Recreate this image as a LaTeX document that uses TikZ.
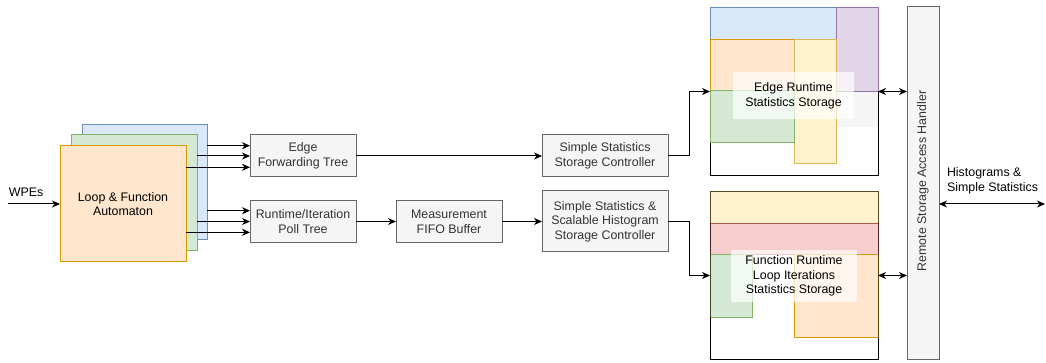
\documentclass[tikz,border=0pt]{standalone}
\usepackage{fontspec}
\setmainfont{Liberation Sans}
\usetikzlibrary{arrows.meta,calc}
\definecolor{blueF}{HTML}{DAE8FC}\definecolor{blueS}{HTML}{6C8EBF}
\definecolor{greenF}{HTML}{D5E8D4}\definecolor{greenS}{HTML}{82B366}
\definecolor{orangeF}{HTML}{FFE6CC}\definecolor{orangeS}{HTML}{D79B00}
\definecolor{yellowF}{HTML}{FFF2CC}\definecolor{yellowS}{HTML}{D6B656}
\definecolor{redF}{HTML}{F8CECC}\definecolor{redS}{HTML}{B85450}
\definecolor{purpleF}{HTML}{E1D5E7}\definecolor{purpleS}{HTML}{9673A6}
\definecolor{grayF}{HTML}{F5F5F5}\definecolor{grayS}{HTML}{666666}
\definecolor{txtgray}{HTML}{333333}
\begin{document}
\begin{tikzpicture}[x=1pt,y=-1pt,
  font=\fontsize{12.4}{14.6}\selectfont,
  every node/.style={inner sep=0pt, outer sep=0pt},
  box/.style={draw=grayS, fill=grayF, text=txtgray, align=center, line width=1pt},
  stack/.style={line width=1pt, align=center},
  cell/.style={line width=1pt},
  lbl/.style={fill=white, fill opacity=0.7, text opacity=1, align=center},
  arr/.style={-{Stealth[length=8pt,width=7pt,inset=2.5pt]}, line width=1pt},
  darr/.style={{Stealth[length=8pt,width=7pt,inset=2.5pt]}-{Stealth[length=8pt,width=7pt,inset=2.5pt]}, line width=1pt}]
\useasboundingbox (0,0) rectangle (1046,363);

% automaton stack
\node[stack, fill=blueF, draw=blueS, minimum width=125pt, minimum height=115pt] (blue) at (144.5,182.5) {};
\node[stack, fill=greenF, draw=greenS, minimum width=126pt, minimum height=116pt] (green) at (134,193) {};
\node[stack, fill=orangeF, draw=orangeS, minimum width=126pt, minimum height=116pt] (auto) at (123,204) {Loop \& Function\\Automaton};

% input
\coordinate (win) at (8,204);
\node[anchor=west] (wpel) at (9,192.5) {WPEs};
\draw[arr] (win) -- (auto.west);

% grey boxes
\node[box, minimum width=106pt, minimum height=42pt] (eft) at (303,156) {Edge\\Forwarding Tree};
\node[box, minimum width=106pt, minimum height=42pt] (rpt) at (303,221.5) {Runtime/Iteration\\Poll Tree};
\node[box, minimum width=106pt, minimum height=42pt] (fifo) at (449,221.5) {Measurement\\FIFO Buffer};
\node[box, minimum width=126pt, minimum height=42pt] (ssc) at (605,156) {Simple Statistics\\Storage Controller};
\node[box, minimum width=126pt, minimum height=61pt] (shc) at (605,221.5) {Simple Statistics \&\\Scalable Histogram\\Storage Controller};

% automaton -> trees
\draw[arr] ([yshift=10.3pt]eft.west -| blue.east) -- ([yshift=10.3pt]eft.west);
\draw[arr] (eft.west -| green.east) -- (eft.west);
\draw[arr] ([yshift=-11.3pt]eft.west -| auto.east) -- ([yshift=-11.3pt]eft.west);
\draw[arr] ([yshift=10.8pt]rpt.west -| blue.east) -- ([yshift=10.8pt]rpt.west);
\draw[arr] (rpt.west -| green.east) -- (rpt.west);
\draw[arr] ([yshift=-10.8pt]rpt.west -| auto.east) -- ([yshift=-10.8pt]rpt.west);

\draw[arr] (eft.east) -- (ssc.west);
\draw[arr] (rpt.east) -- (fifo.west);
\draw[arr] (fifo.east) -- (shc.west);

% edge storage
\node[draw=black, fill=white, line width=1pt, minimum width=168pt, minimum height=168pt] (es) at (794,91.5) {};
\draw[cell, fill=blueF, draw=blueS] (710,7.5) rectangle (836,39.5);
\draw[cell, fill=purpleF, draw=purpleS] (836,7.5) rectangle (878,92);
\draw[cell, fill=orangeF, draw=orangeS] (710,39.5) rectangle (794,91);
\draw[cell, fill=yellowF, draw=yellowS] (794,39.5) rectangle (836,164);
\draw[cell, fill=greenF, draw=greenS] (710,91) rectangle (794,142.5);
\fill[grayF] (836.5,92.5) rectangle (877.5,127);
\node[lbl, minimum width=121pt, minimum height=47pt] (esl) at (793.5,95.5) {Edge Runtime\\Statistics Storage};

% function storage
\node[draw=black, fill=white, line width=1pt, minimum width=168pt, minimum height=168pt] (fs) at (794,275.5) {};
\draw[cell, fill=yellowF, draw=yellowS] (710,191.5) rectangle (878,223.3);
\draw[cell, fill=redF, draw=redS] (710,223.3) rectangle (878,254.5);
\draw[cell, fill=greenF, draw=greenS] (710,254.5) rectangle (752.7,317.7);
\draw[cell, fill=orangeF, draw=orangeS] (794,254.5) rectangle (878,337.7);
\draw[line width=1pt, draw=black, draw opacity=0.6] (fs.north west) rectangle (fs.south east);
\node[lbl, minimum width=126pt, minimum height=52pt] (fsl) at (794,276) {Function Runtime\\Loop Iterations\\Statistics Storage};

% controllers -> storages
\draw[arr] (ssc.east) -- ++(21,0) |- (es.west);
\draw[arr] (shc.east) -- ++(21,0) |- (fs.west);

% remote storage access handler
\node[box, minimum width=32pt, minimum height=352pt] (h) at (923,183) {};
\node[rotate=90, text=txtgray] (hl) at (923,181) {Remote Storage Access Handler};
\draw[darr] (es.east) -- (es.east -| h.west);
\draw[darr] (fs.east) -- (fs.east -| h.west);

% output
\coordinate (hout) at (1045,204);
\node[anchor=west, align=left] (histl) at (947,181) {Histograms \&\\Simple Statistics};
\draw[darr] (hout -| h.east) -- (hout);
\end{tikzpicture}
\end{document}
